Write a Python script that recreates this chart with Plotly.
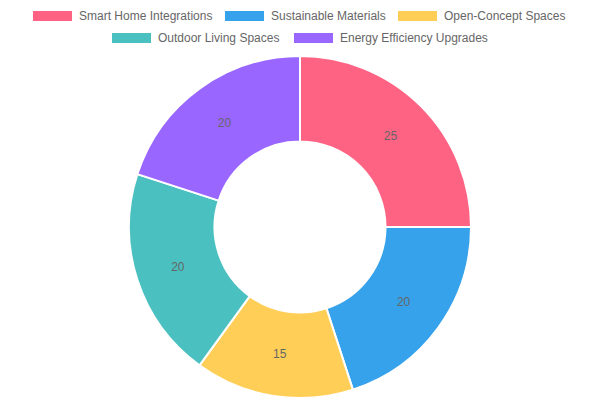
import plotly.graph_objects as go

# Doughnut chart data
categories = ['Smart Home Integrations', 'Sustainable Materials', 'Open-Concept Spaces',
              'Outdoor Living Spaces', 'Energy Efficiency Upgrades']
values = [25, 20, 15, 20, 20]
colours = ['#FF6384', '#36A2EB', '#FFCE56', '#4BC0C0', '#9966FF']

TEXT_COLOUR = '#666666'
FONT = 'Liberation Sans, Arial, sans-serif'

# legend layout (pixel positions of each box, two centred rows)
legend_box_x = [33, 225, 398, 112, 294]
legend_row_y = [16, 16, 16, 38, 38]

W, H = 600, 400

pie = go.Pie(labels=categories,
             values=values,
             hole=0.5,
             sort=False,
             direction='clockwise',
             rotation=0,
             marker=dict(colors=colours, line=dict(color='white', width=2)),
             textinfo='value',
             textposition='inside',
             insidetextorientation='horizontal',
             textfont=dict(color=TEXT_COLOUR, size=12, family=FONT),
             hoverinfo='label+value',
             domain=dict(x=[129 / W, 471 / W], y=[1 - 398 / H, 1 - 56 / H]),
             showlegend=False)

fig = go.Figure(data=[pie])

# hand-drawn legend in Chart.js style
for name, colour, bx, by in zip(categories, colours, legend_box_x, legend_row_y):
    fig.add_shape(type='rect', xref='paper', yref='paper',
                  x0=bx / W, x1=(bx + 39) / W,
                  y0=1 - (by + 5) / H, y1=1 - (by - 5) / H,
                  fillcolor=colour, line=dict(width=0))
    fig.add_annotation(xref='paper', yref='paper',
                       x=(bx + 44) / W, y=1 - by / H,
                       xanchor='left', yanchor='middle',
                       text=name, showarrow=False,
                       font=dict(color=TEXT_COLOUR, size=12, family=FONT))

fig.update_layout(width=W, height=H,
                  margin=dict(l=0, r=0, t=0, b=0),
                  paper_bgcolor='white',
                  plot_bgcolor='white',
                  showlegend=False)

# drop the default page margin so the chart sits at the window's corner
fig.write_html("out.html",
               config={'displayModeBar': False},
               post_script="document.body.style.margin='0';document.body.style.overflow='hidden';")
